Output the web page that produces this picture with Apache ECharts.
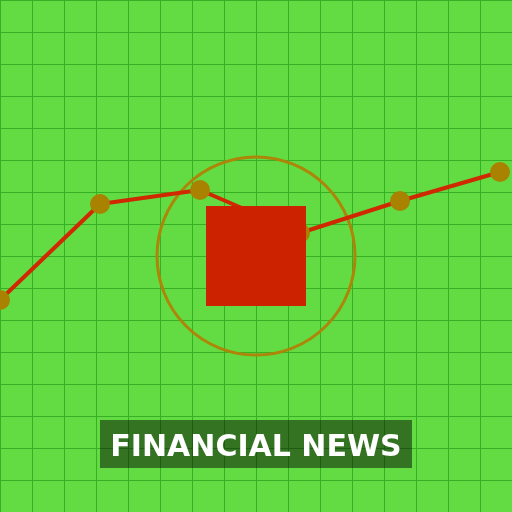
<!DOCTYPE html>
<html>
<head>
<meta charset="utf-8">
<script src="https://cdn.jsdelivr.net/npm/echarts@6/dist/echarts.min.js"></script>
<style>
  html, body { margin: 0; padding: 0; background: #62dc42; }
  #container { width: 512px; height: 512px; }
</style>
</head>
<body>
<div id="container"></div>
<script>
    // price points (x = time step, y = index level, grid unit = 32)
    var xValues = [0, 100, 200, 300, 400, 500];
    var yValues = [212, 308, 322, 279, 311, 340];
    var title = 'FINANCIAL NEWS';

    var points = xValues.map(function(x, i) {
        return [x, yValues[i]];
    });

    var myChart = echarts.init(document.getElementById('container'));
    myChart.setOption({
        backgroundColor: '#62dc42',
        animation: false,
        grid: { left: 0, right: 0, top: 0, bottom: 0 },
        xAxis: {
            type: 'value',
            min: 0,
            max: 512,
            interval: 32,
            axisLine: { show: false },
            axisTick: { show: false },
            axisLabel: { show: false },
            splitLine: { lineStyle: { color: '#38b026', width: 1 } }
        },
        yAxis: {
            type: 'value',
            min: 0,
            max: 512,
            interval: 32,
            axisLine: { show: false },
            axisTick: { show: false },
            axisLabel: { show: false },
            splitLine: { lineStyle: { color: '#38b026', width: 1 } }
        },
        series: [{
            type: 'line',
            data: points,
            symbol: 'circle',
            symbolSize: 20,
            lineStyle: { color: '#d02800', width: 4 },
            itemStyle: { color: '#a88200', borderWidth: 0 },
            z: 5
        }],
        graphic: [
            {
                type: 'circle',
                shape: { cx: 256, cy: 256, r: 99 },
                style: { fill: 'none', stroke: '#ad8508', lineWidth: 3 },
                z: 1
            },
            {
                type: 'rect',
                shape: { x: 206, y: 206, width: 100, height: 100 },
                style: { fill: '#cc2200' },
                z: 100
            },
            {
                type: 'rect',
                shape: { x: 100, y: 420, width: 312, height: 48 },
                style: { fill: 'rgba(0,0,0,0.48)' },
                z: 100
            },
            {
                type: 'text',
                x: 256,
                y: 448,
                style: {
                    text: title,
                    fill: '#ffffff',
                    font: 'bold 30px "DejaVu Sans"',
                    textAlign: 'center',
                    textVerticalAlign: 'middle'
                },
                z: 101
            }
        ]
    });
</script>
</body>
</html>
